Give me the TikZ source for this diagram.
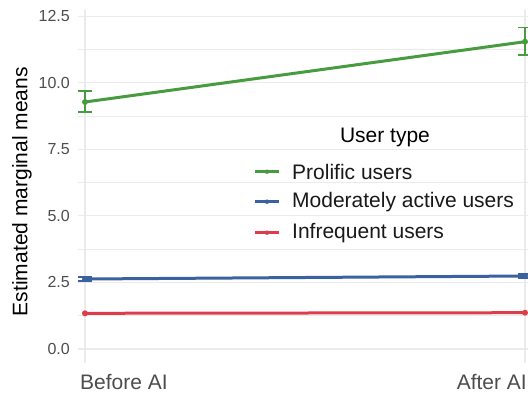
\documentclass[tikz,border=0pt]{standalone}
\usepackage{fontspec}
\setmainfont{Liberation Sans}
\definecolor{prolific}{RGB}{72,155,62}
\definecolor{moderate}{RGB}{58,98,160}
\definecolor{infrequent}{RGB}{222,60,74}
\definecolor{gridgray}{RGB}{235,235,235}
\definecolor{ticktext}{RGB}{77,77,77}
\tikzset{
  major/.style={draw=gridgray, line width=1.3pt},
  minor/.style={draw=gridgray, line width=0.7pt},
  ticklab/.style={text=ticktext, font=\fontsize{16}{16}\selectfont, anchor=east, inner sep=0pt},
  xlab/.style={text=ticktext, font=\fontsize{21}{21}\selectfont, inner sep=0pt},
  legtext/.style={text=black!90, font=\fontsize{21}{21}\selectfont, anchor=west, inner sep=0pt},
  trend/.style={line width=3pt},
  errbar/.style={line width=1.5pt},
  dot/.style={circle, fill, inner sep=0pt, minimum size=6pt}
}
\begin{document}
\begin{tikzpicture}[x=1pt,y=-1pt]
\useasboundingbox (0,0) rectangle (528,394);

% grid
\draw[minor] (78,49.6) -- (528,49.6);
\draw[minor] (78,116.1) -- (528,116.1);
\draw[minor] (78,182.6) -- (528,182.6);
\draw[minor] (78,249.1) -- (528,249.1);
\draw[minor] (78,315.7) -- (528,315.7);
\draw[major] (78,16.3) -- (528,16.3);
\draw[major] (78,82.8) -- (528,82.8);
\draw[major] (78,149.3) -- (528,149.3);
\draw[major] (78,215.8) -- (528,215.8);
\draw[major] (78,282.3) -- (528,282.3);
\draw[major] (78,348.9) -- (528,348.9);
\draw[major] (85,10) -- (85,363);
\draw[major] (525,10) -- (525,363);

% tick labels
\node[ticklab] (t125) at (70,16.3) {12.5};
\node[ticklab] (t100) at (70,82.8) {10.0};
\node[ticklab] (t75) at (70,149.3) {7.5};
\node[ticklab] (t50) at (70,215.8) {5.0};
\node[ticklab] (t25) at (70,282.3) {2.5};
\node[ticklab] (t00) at (70,348.9) {0.0};
\node[xlab, anchor=base west] (before) at (80,389.3) {Before AI};
\node[xlab, anchor=base east] (after) at (527,389.3) {After AI};
\node[font=\fontsize{21}{21}\selectfont, rotate=90, inner sep=0pt] (ytitle) at (22,191.7) {Estimated marginal means};

% estimates
\coordinate (pb) at (85,102);
\coordinate (pa) at (525,41.7);
\coordinate (mb) at (85,279);
\coordinate (ma) at (525,276);
\coordinate (ib) at (85,313.3);
\coordinate (ia) at (525,312.7);

% prolific users
\draw[prolific, errbar] (78,91) -- (92,91) (85,91) -- (85,112) (78,112) -- (92,112);
\draw[prolific, errbar] (518,27.7) -- (532,27.7) (525,27.7) -- (525,55) (518,55) -- (532,55);
\draw[prolific, trend] (pb) -- (pa);
\node[dot, prolific] (pbdot) at (pb) {};
\node[dot, prolific] (padot) at (pa) {};

% moderately active users
\draw[moderate, errbar] (78,277) -- (92,277) (78,281) -- (92,281);
\draw[moderate, errbar] (518,274) -- (532,274) (518,278) -- (532,278);
\draw[moderate, trend] (mb) -- (ma);
\node[dot, moderate] (mbdot) at (mb) {};
\node[dot, moderate] (madot) at (ma) {};

% infrequent users
\draw[infrequent, trend] (ib) -- (ia);
\node[dot, infrequent] (ibdot) at (ib) {};
\node[dot, infrequent] (iadot) at (ia) {};

% legend
\node[font=\fontsize{21}{21}\selectfont, inner sep=0pt] (legtitle) at (385,137) {User type};
\coordinate (k1a) at (255,171.7);
\coordinate (k1b) at (279,171.7);
\coordinate (k2a) at (255,201.7);
\coordinate (k2b) at (279,201.7);
\coordinate (k3a) at (255,232.7);
\coordinate (k3b) at (279,232.7);
\draw[prolific, line width=2.5pt] (k1a) -- (k1b);
\draw[moderate, line width=2.5pt] (k2a) -- (k2b);
\draw[infrequent, line width=2.5pt] (k3a) -- (k3b);
\node[dot, prolific, minimum size=4.5pt] (k1dot) at (267,171.7) {};
\node[dot, moderate, minimum size=4.5pt] (k2dot) at (267,201.7) {};
\node[dot, infrequent, minimum size=4.5pt] (k3dot) at (267,232.7) {};
\node[legtext] (l1) at (292,171.7) {Prolific users};
\node[legtext] (l2) at (292,201.7) {Moderately active users};
\node[legtext] (l3) at (292,232.7) {Infrequent users};
\end{tikzpicture}
\end{document}
